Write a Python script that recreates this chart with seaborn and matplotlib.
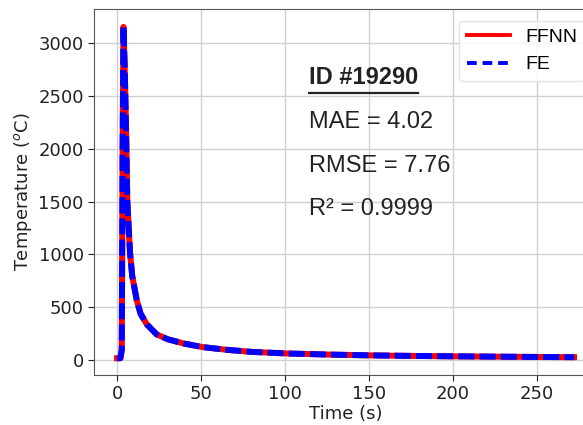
import matplotlib
matplotlib.use("Agg")
import matplotlib.pyplot as plt
import seaborn as sns
import pandas as pd
import os
from matplotlib.lines import Line2D
from matplotlib.font_manager import FontProperties, findfont

time_s = [0, 2, 2.8, 3.3, 3.8, 4.5, 5.4, 6.1, 7.7, 9, 11.7, 14, 17.7, 23.6, 30, 40,
          51, 65, 80, 101, 125, 150, 175, 200, 225, 250, 272]
temp_ffnn = [20, 20, 100, 2000, 3150, 2800, 2150, 1500, 1020, 800, 570, 440, 340, 245,
             200, 158, 125, 100, 80, 65, 55, 47, 42, 38, 35, 32, 30]
temp_fe = [20, 20, 100, 2000, 3155, 2800, 2150, 1500, 1020, 800, 570, 440, 340, 245,
           200, 158, 125, 100, 80, 65, 55, 47, 42, 38, 35, 32, 30]

series_names = ["FFNN", "FE"]
sample_id = "ID #19290"
mae, rmse, r2 = "4.02", "7.76", "0.9999"

df = pd.DataFrame({"Time": time_s + time_s,
                   "Temp": temp_ffnn + temp_fe,
                   "Model": [series_names[0]] * len(time_s) + [series_names[1]] * len(time_s)})

fig = plt.figure(figsize=(5.83, 4.25), dpi=100)
ax = fig.add_axes([0.1616, 0.118, 0.8622, 0.861])

sns.lineplot(data=df[df.Model == "FFNN"], x="Time", y="Temp", color="red", lw=4.3,
             ax=ax, zorder=2)
sns.lineplot(data=df[df.Model == "FE"], x="Time", y="Temp", color="blue", lw=4.3,
             ax=ax, zorder=3)
ax.lines[1].set_dashes([2.7, 0.85])

ax.grid(True, color="#d0d0d0", lw=1.0)
ax.set_axisbelow(True)
for s in ax.spines.values():
    s.set_color("#555555")
ax.tick_params(labelsize=13, colors="#222222", length=4)
ax.set_xticks([0, 50, 100, 150, 200, 250])
ax.set_yticks([0, 500, 1000, 1500, 2000, 2500, 3000])
ax.set_xlabel("Time (s)", fontsize=13, labelpad=1, color="#222222")
ax.set_ylabel("Temperature ($^o$C)", fontsize=13, labelpad=3, color="#222222")
ax.set_xlim(-13.6, 285.6)
ax.set_ylim(-137, 3320)

fpath = findfont(FontProperties(family="Liberation Sans", stretch="normal", weight="normal"))
fpath_b = findfont(FontProperties(family="Liberation Sans", stretch="normal", weight="bold"))
if "Narrow" in fpath:
    fpath = fpath.replace("LiberationSansNarrow", "LiberationSans")
if "Narrow" in fpath_b:
    fpath_b = fpath_b.replace("LiberationSansNarrow", "LiberationSans")
fp_reg = FontProperties(fname=fpath) if os.path.exists(fpath) else FontProperties(family="Liberation Sans")
fp_bold = FontProperties(fname=fpath_b) if os.path.exists(fpath_b) else FontProperties(family="Liberation Sans", weight="bold")

handles = [Line2D([], [], color="red", lw=2.8),
           Line2D([], [], color="blue", lw=2.8, dashes=[2.5, 1.5])]
lp = fp_reg.copy()
lp.set_size(14)
ax.legend(handles, series_names, loc="upper right", borderaxespad=0.6,
          handlelength=2.2, prop=lp,
          frameon=True, framealpha=0.8, edgecolor="#dddddd", borderpad=0.4,
          labelspacing=0.5)

def fprop(base, size):
    p = base.copy()
    p.set_size(size)
    return p

tf = {"color": "#222222", "va": "baseline"}
t = ax.text(114.3, 2615, sample_id, fontproperties=fprop(fp_bold, 17), **tf)
fig.canvas.draw()
bb = t.get_window_extent()
inv = fig.transFigure.inverted()
(x0, y0), (x1, _) = inv.transform([(bb.x0, bb.y0), (bb.x1, bb.y0)])
yl = y0 - 4.0 / 425
fig.add_artist(Line2D([x0, x1], [yl, yl], color="#222222", lw=1.6,
                      transform=fig.transFigure))
ax.text(114.3, 2192, f"MAE = {mae}", fontproperties=fprop(fp_reg, 17), **tf)
ax.text(114.3, 1778, f"RMSE = {rmse}", fontproperties=fprop(fp_reg, 17), **tf)
ax.text(114.3, 1373, f"R\u00b2 = {r2}", fontproperties=fprop(fp_reg, 17), **tf)

fig.savefig("out.png", dpi=100)
